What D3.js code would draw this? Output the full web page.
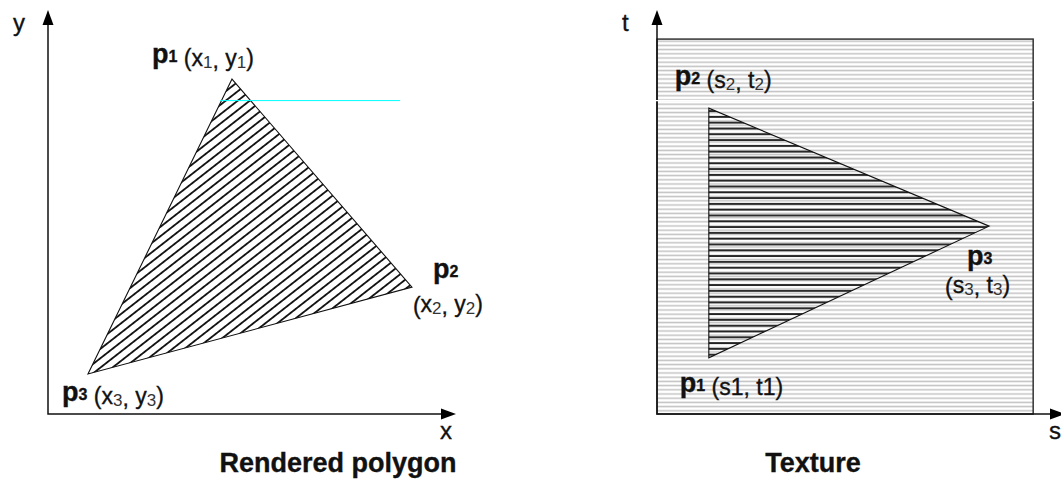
<!DOCTYPE html>
<html>
<head>
<meta charset="utf-8">
<script src="https://cdn.jsdelivr.net/npm/d3@7"></script>
<style>
  body { margin: 0; background: #fff; }
  text { font-family: "Liberation Sans", Arial, sans-serif; fill: #111; stroke: #111; stroke-width: 0.35; }
</style>
</head>
<body>
<script>
// Vertex data (percent of each axis length)
const polyNames = ["1", "2", "3"];
const polyX = [45.1, 89.2, 9.8];
const polyY = [82.9, 31.4, 9.9];

const texNames = ["1", "2", "3"];
const texS = [12.7, 12.7, 81.4];
const texT = [13.9, 75.7, 46.5];
const texExtent = [92.2, 92.8];   // texture size on s and t

const polyCoords = [["x", "y"], ["x", "y"], ["x", "y"]];
const texCoords = [["s1", "t1"], ["s", "t"], ["s", "t"]];
const titles = ["Rendered polygon", "Texture"];
const axisNames = [["x", "y"], ["s", "t"]];

// scan-line artifact across both panels
const scanY = 77.7;
const scanX = [42.2, 86.3];

const W = 1061, H = 479;

const svg = d3.select("body").append("svg")
    .attr("width", W)
    .attr("height", H);

svg.append("rect").attr("width", W).attr("height", H).attr("fill", "#fff");

// Scales
const xScale = d3.scaleLinear().domain([0, 100]).range([48, 456]);
const yScale = d3.scaleLinear().domain([0, 100]).range([414, 10]);
const sScale = d3.scaleLinear().domain([0, 100]).range([657, 1065]);
const tScale = d3.scaleLinear().domain([0, 100]).range([414, 10]);

// Patterns
const defs = svg.append("defs");

defs.append("pattern")
    .attr("id", "hatch")
    .attr("patternUnits", "userSpaceOnUse")
    .attr("width", 10).attr("height", 7.4)
    .attr("patternTransform", "rotate(-38)")
    .append("line")
    .attr("x1", 0).attr("x2", 10).attr("y1", 3.7).attr("y2", 3.7)
    .attr("stroke", "#000").attr("stroke-width", 1.7);

defs.append("pattern")
    .attr("id", "stripes")
    .attr("patternUnits", "userSpaceOnUse")
    .attr("y", tScale(texExtent[1]))
    .attr("width", 10).attr("height", 4.2)
    .append("line")
    .attr("x1", 0).attr("x2", 10).attr("y1", 2.1).attr("y2", 2.1)
    .attr("stroke", "#c2c2c2").attr("stroke-width", 1.5);

defs.append("pattern")
    .attr("id", "texlines")
    .attr("patternUnits", "userSpaceOnUse")
    .attr("y", tScale(texT[1]))
    .attr("width", 10).attr("height", 5.8)
    .append("line")
    .attr("x1", 0).attr("x2", 10).attr("y1", 2.9).attr("y2", 2.9)
    .attr("stroke", "#000").attr("stroke-width", 1.6);

// Axis with arrowhead
function drawAxes(hs, vs, names) {
    const g = svg.append("g");
    const x0 = hs(0), y0 = vs(0), xe = hs(100), ye = vs(100);
    g.append("path")
        .attr("d", `M${x0},${ye + 12}L${x0},${y0}L${xe - 12},${y0}`)
        .attr("fill", "none").attr("stroke", "#111").attr("stroke-width", 1.5);
    g.append("path")
        .attr("d", `M${x0},${ye}L${x0 - 5.5},${ye + 15}L${x0 + 5.5},${ye + 15}Z`)
        .attr("fill", "#000");
    g.append("path")
        .attr("d", `M${xe},${y0}L${xe - 15},${y0 - 5.5}L${xe - 15},${y0 + 5.5}Z`)
        .attr("fill", "#000");
    g.append("text")
        .attr("x", x0 - 35).attr("y", ye + 21)
        .attr("font-size", 24)
        .text(names[1]);
    g.append("text")
        .attr("x", xe - 16).attr("y", y0 + 25)
        .attr("font-size", 24)
        .text(names[0]);
    return g;
}

// Label: bold "p" + index, then "(a, b)" with subscripts
function pointLabel(x, y, idx, coords, split) {
    const g = svg.append("g");
    const t = g.append("text").attr("x", x).attr("y", y);
    t.append("tspan").attr("font-weight", "bold").attr("font-size", 27).text("p");
    t.append("tspan").attr("font-weight", "bold").attr("font-size", 16).attr("dy", -1).text(idx);
    let t2 = t;
    if (split) {
        t2 = g.append("text").attr("x", split[0]).attr("y", split[1]);
    } else {
        t.append("tspan").attr("font-size", 23).attr("dy", 4).text("\u00a0(");
    }
    if (split) t2.append("tspan").attr("font-size", 23).text("(");
    const sub = coords[0].length === 1;
    coords.forEach((c, i) => {
        if (sub) {
            t2.append("tspan").attr("font-size", 23).attr("dy", i === 0 && !split ? 0 : -2).text(c);
            t2.append("tspan").attr("font-size", 17).attr("dy", 2)
                .style("fill", "#333").style("stroke", "none").text(idx);
        } else {
            t2.append("tspan").attr("font-size", 23).text(c);
        }
        if (i === 0) t2.append("tspan").attr("font-size", 23).text(", ");
    });
    t2.append("tspan").attr("font-size", 23).attr("dy", sub ? -2 : 0).text(")");
}

// ---- Left panel: rendered polygon ----
drawAxes(xScale, yScale, axisNames[0]);

const polyPts = polyX.map((d, i) => [xScale(d), yScale(polyY[i])]);

svg.append("path")
    .attr("d", d3.line()(polyPts) + "Z")
    .attr("fill", "url(#hatch)")
    .attr("stroke", "#111").attr("stroke-width", 1.1);

svg.append("line")
    .attr("x1", xScale(scanX[0])).attr("x2", xScale(scanX[1]))
    .attr("y1", yScale(scanY) + 0.5).attr("y2", yScale(scanY) + 0.5)
    .attr("stroke", "#00ffff").attr("stroke-width", 1);

pointLabel(polyPts[0][0] - 80, polyPts[0][1] - 16, polyNames[0], polyCoords[0]);
pointLabel(polyPts[1][0] + 21, polyPts[1][1] - 9, polyNames[1], polyCoords[1],
    [polyPts[1][0] + 1, polyPts[1][1] + 27]);
pointLabel(polyPts[2][0] - 26, polyPts[2][1] + 27, polyNames[2], polyCoords[2]);

svg.append("text")
    .attr("x", 338).attr("y", 472)
    .attr("text-anchor", "middle")
    .attr("font-size", 27).attr("font-weight", "bold")
    .text(titles[0]);

// ---- Right panel: texture ----
svg.append("rect")
    .attr("x", sScale(0)).attr("y", tScale(texExtent[1]))
    .attr("width", sScale(texExtent[0]) - sScale(0))
    .attr("height", tScale(0) - tScale(texExtent[1]))
    .attr("fill", "url(#stripes)")
    .attr("stroke", "#333").attr("stroke-width", 1.5);

const texPts = texS.map((d, i) => [sScale(d), tScale(texT[i])]);

svg.append("path")
    .attr("d", d3.line()(texPts) + "Z")
    .attr("fill", "url(#texlines)")
    .attr("stroke", "#111").attr("stroke-width", 1.1);

drawAxes(sScale, tScale, axisNames[1]);

// white scan gap across the texture
svg.append("line")
    .attr("x1", sScale(0) - 2).attr("x2", sScale(texExtent[0]) + 2)
    .attr("y1", tScale(scanY) + 0.5).attr("y2", tScale(scanY) + 0.5)
    .attr("stroke", "#fff").attr("stroke-width", 1.2);

pointLabel(texPts[0][0] - 29, texPts[0][1] + 34, texNames[0], texCoords[0]);
pointLabel(texPts[1][0] - 34, texPts[1][1] - 23, texNames[1], texCoords[1]);
pointLabel(texPts[2][0] - 22, texPts[2][1] + 39, texNames[2], texCoords[2],
    [texPts[2][0] - 44, texPts[2][1] + 69]);

svg.append("text")
    .attr("x", 813).attr("y", 472)
    .attr("text-anchor", "middle")
    .attr("font-size", 27).attr("font-weight", "bold")
    .text(titles[1]);
</script>
</body>
</html>
